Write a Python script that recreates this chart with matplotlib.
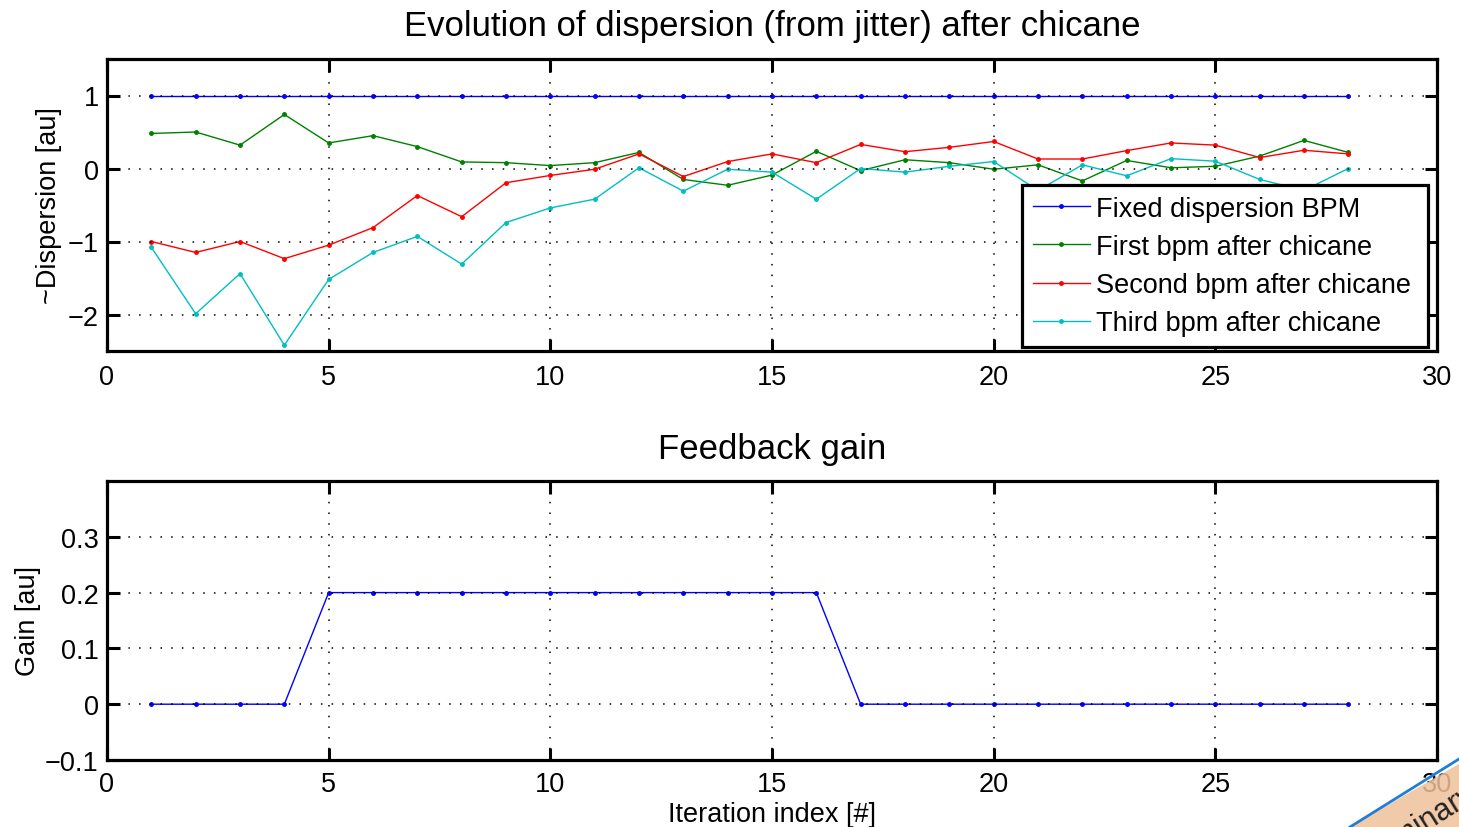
import matplotlib
matplotlib.use("Agg")
import matplotlib.pyplot as plt
from matplotlib.patches import Polygon

plt.rcParams['font.family'] = ['Liberation Sans', 'DejaVu Sans']

# Iteration index
iterations = list(range(1, 29))

# Dispersion readings per BPM
fixed_bpm = [1.0] * 28
first_bpm = [0.48, 0.50, 0.32, 0.74, 0.35, 0.45, 0.30, 0.09, 0.08, 0.04,
             0.08, 0.22, -0.15, -0.23, -0.09, 0.235, -0.03, 0.12, 0.08, -0.01,
             0.05, -0.17, 0.11, 0.01, 0.03, 0.17, 0.385, 0.22]
second_bpm = [-1.00, -1.15, -1.00, -1.235, -1.05, -0.81, -0.37, -0.66, -0.195, -0.095,
              -0.01, 0.20, -0.11, 0.095, 0.20, 0.08, 0.33, 0.23, 0.29, 0.37,
              0.13, 0.13, 0.245, 0.35, 0.32, 0.15, 0.25, 0.20]
third_bpm = [-1.08, -1.99, -1.44, -2.42, -1.52, -1.15, -0.93, -1.31, -0.74, -0.54,
             -0.42, 0.01, -0.31, -0.01, -0.05, -0.42, 0.0, -0.05, 0.03, 0.095,
             -0.30, 0.05, -0.10, 0.135, 0.10, -0.15, -0.30, 0.0]

# Feedback gain per iteration
gain = [0.0] * 4 + [0.2] * 12 + [0.0] * 12

series_labels = ["Fixed dispersion BPM", "First bpm after chicane",
                 "Second bpm after chicane", "Third bpm after chicane"]
series_colors = ["#0000ff", "#008000", "#ff0000", "#00bfbf"]

top_yticks = [-2, -1, 0, 1]
bottom_yticks = [-0.1, 0, 0.1, 0.2, 0.3]
xticks = [0, 5, 10, 15, 20, 25, 30]

W, H = 1459, 828
fig = plt.figure(figsize=(W / 100, H / 100), dpi=100)

FS = 19.5


def ax_rect(left, top, right, bottom):
    return [left / W, 1 - bottom / H, (right - left) / W, (bottom - top) / H]


def style_axes(ax, xpad):
    for sp in ax.spines.values():
        sp.set_linewidth(2.3)
    ax.tick_params(direction='in', length=9, width=2.2, labelsize=FS,
                   top=True, right=True)
    ax.tick_params(axis='y', pad=6)
    ax.tick_params(axis='x', pad=xpad)
    ax.grid(True, color='black', linestyle=(0, (1, 6)), linewidth=1.1)
    ax.set_axisbelow(False)


ax1 = fig.add_axes(ax_rect(107, 60, 1437, 352))
for vals, lab, col in zip([fixed_bpm, first_bpm, second_bpm, third_bpm],
                          series_labels, series_colors):
    # trailing space widens the legend's right margin a little
    ax1.plot(iterations, vals, color=col, linewidth=1.0, marker='.',
             markersize=5, label=lab + " ")
ax1.set_xlim(0, 30)
ax1.set_ylim(-2.5, 1.5)
ax1.set_xticks(xticks)
ax1.set_yticks(top_yticks)
ax1.set_yticklabels(["\u22122", "\u22121", "0", "1"])
style_axes(ax1, xpad=9.5)
ax1.set_title("Evolution of dispersion (from jitter) after chicane",
              fontsize=25, pad=17)
ax1.set_ylabel("~Dispersion [au]", fontsize=FS, labelpad=4)
leg = ax1.legend(loc='lower right', bbox_to_anchor=(0.9935, 0.015),
                 fontsize=FS, handlelength=2.1, handletextpad=0.22,
                 labelspacing=0.45, borderpad=0.38, borderaxespad=0.0,
                 fancybox=False, framealpha=1, edgecolor='black')
leg.get_frame().set_linewidth(2.3)

ax2 = fig.add_axes(ax_rect(107, 482, 1437, 761))
ax2.plot(iterations, gain, color="#0000ff", linewidth=1.0, marker='.',
         markersize=5)
ax2.set_xlim(0, 30)
ax2.set_ylim(-0.1, 0.4)
ax2.set_xticks(xticks)
ax2.set_yticks(bottom_yticks)
ax2.set_yticklabels(["\u22120.1", "0", "0.1", "0.2", "0.3"])
style_axes(ax2, xpad=8)
ax2.set_title("Feedback gain", fontsize=25, pad=16.5)
ax2.set_ylabel("Gain [au]", fontsize=FS, labelpad=3)
ax2.set_xlabel("Iteration index [#]", fontsize=FS, labelpad=2.5)

# Corner "Preliminary" banner
corner = Polygon([(1350 / W, 0), (1.02, 0), (1.02, (H - 748) / H)],
                 closed=True, transform=fig.transFigure,
                 facecolor='#eec19a', alpha=0.85, edgecolor='none', zorder=10)
fig.patches.append(corner)
fig.add_artist(plt.Line2D([1350 / W, 1.0], [0, (H - 760) / H],
                          transform=fig.transFigure, color='#1f7fd6',
                          linewidth=2, zorder=11))
fig.text(1352 / W, -57 / H, "Preliminary", rotation=32, fontsize=22,
         color='#222222', ha='left', va='bottom', zorder=12,
         rotation_mode='anchor')

fig.savefig("out.png", dpi=100)
